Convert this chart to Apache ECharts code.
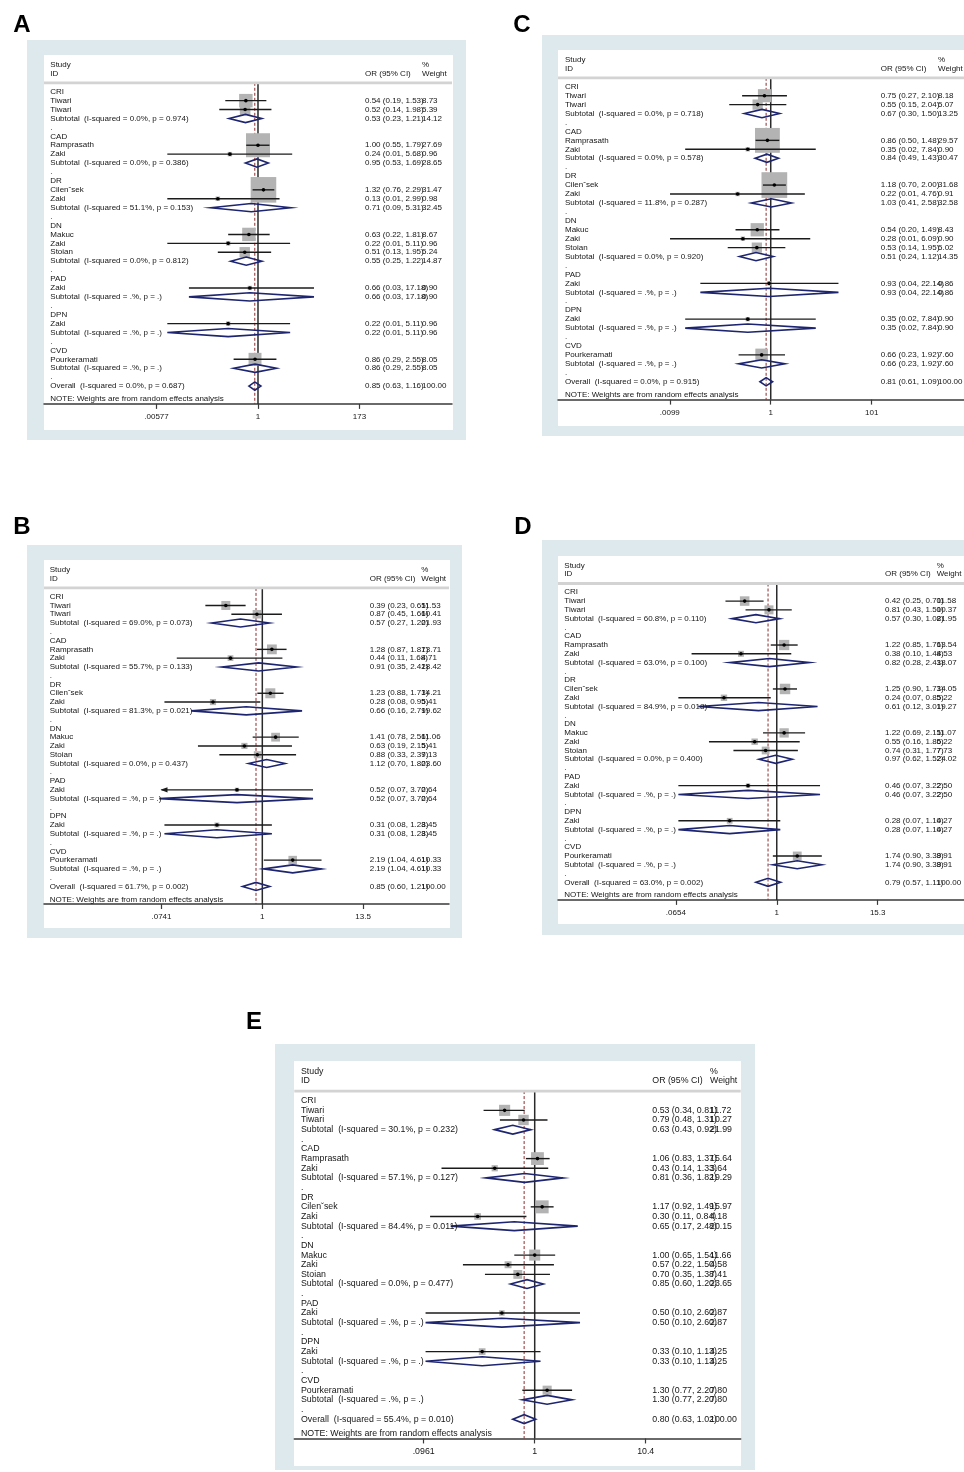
<!DOCTYPE html>
<html>
<head>
<meta charset="utf-8">
<script src="https://cdn.jsdelivr.net/npm/echarts@6/dist/echarts.min.js"></script>
<style>
  html, body { margin: 0; padding: 0; background: #ffffff; }
  #chart { width: 964px; height: 1472px; }
</style>
</head>
<body>
<div id="chart"></div>
<script>
// Subgroups and the studies listed under each (same row order in every panel)
const groups = ['CRI', 'CAD', 'DR', 'DN', 'PAD', 'DPN', 'CVD'];
const studyNames = ['Tiwari', 'Tiwari', 'Ramprasath', 'Zaki', 'Cilen\u02c7sek', 'Zaki', 'Makuc', 'Zaki', 'Stoian', 'Zaki', 'Zaki', 'Pourkeramati'];
const studyGroups = ['CRI', 'CRI', 'CAD', 'CAD', 'DR', 'DR', 'DN', 'DN', 'DN', 'PAD', 'DPN', 'CVD'];

// Panel A — study rows: [OR, lower 95% CI, upper 95% CI, % weight]
const studyA = [[0.54, 0.19, 1.53, 8.73], [0.52, 0.14, 1.98, 5.39], [1.00, 0.55, 1.79, 27.69], [0.24, 0.01, 5.68, 0.96],
  [1.32, 0.76, 2.29, 31.47], [0.13, 0.01, 2.99, 0.98], [0.63, 0.22, 1.81, 8.67], [0.22, 0.01, 5.11, 0.96],
  [0.51, 0.13, 1.95, 5.24], [0.66, 0.03, 17.18, 0.90], [0.22, 0.01, 5.11, 0.96], [0.86, 0.29, 2.55, 8.05]];
const subA = [[0.53, 0.23, 1.21, 14.12], [0.95, 0.53, 1.69, 28.65], [0.71, 0.09, 5.31, 32.45], [0.55, 0.25, 1.22, 14.87],
  [0.66, 0.03, 17.18, 0.90], [0.22, 0.01, 5.11, 0.96], [0.86, 0.29, 2.55, 8.05]];
const hetA = [['0.0%', '0.974'], ['0.0%', '0.386'], ['51.1%', '0.153'], ['0.0%', '0.812'], ['.%', '.'], ['.%', '.'], ['.%', '.']];
const overallA = [0.85, 0.63, 1.16];
const overallHetA = ['0.0%', '0.687'];
const ticksA = ['.00577', '1', '173'];

// Panel B
const studyB = [[0.39, 0.23, 0.65, 11.53], [0.87, 0.45, 1.66, 10.41], [1.28, 0.87, 1.87, 13.71], [0.44, 0.11, 1.68, 4.71],
  [1.23, 0.88, 1.73, 14.21], [0.28, 0.08, 0.95, 5.41], [1.41, 0.78, 2.56, 11.06], [0.63, 0.19, 2.15, 5.41],
  [0.88, 0.33, 2.39, 7.13], [0.52, 0.07, 3.70, 2.64], [0.31, 0.08, 1.28, 3.45], [2.19, 1.04, 4.61, 10.33]];
const subB = [[0.57, 0.27, 1.20, 21.93], [0.91, 0.35, 2.42, 18.42], [0.66, 0.16, 2.79, 19.62], [1.12, 0.70, 1.80, 23.60],
  [0.52, 0.07, 3.70, 2.64], [0.31, 0.08, 1.28, 3.45], [2.19, 1.04, 4.61, 10.33]];
const hetB = [['69.0%', '0.073'], ['55.7%', '0.133'], ['81.3%', '0.021'], ['0.0%', '0.437'], ['.%', '.'], ['.%', '.'], ['.%', '.']];
const overallB = [0.85, 0.60, 1.21];
const overallHetB = ['61.7%', '0.002'];
const ticksB = ['.0741', '1', '13.5'];

// Panel C
const studyC = [[0.75, 0.27, 2.10, 8.18], [0.55, 0.15, 2.04, 5.07], [0.86, 0.50, 1.48, 29.57], [0.35, 0.02, 7.84, 0.90],
  [1.18, 0.70, 2.00, 31.68], [0.22, 0.01, 4.76, 0.91], [0.54, 0.20, 1.49, 8.43], [0.28, 0.01, 6.09, 0.90],
  [0.53, 0.14, 1.95, 5.02], [0.93, 0.04, 22.14, 0.86], [0.35, 0.02, 7.84, 0.90], [0.66, 0.23, 1.92, 7.60]];
const subC = [[0.67, 0.30, 1.50, 13.25], [0.84, 0.49, 1.43, 30.47], [1.03, 0.41, 2.58, 32.58], [0.51, 0.24, 1.12, 14.35],
  [0.93, 0.04, 22.14, 0.86], [0.35, 0.02, 7.84, 0.90], [0.66, 0.23, 1.92, 7.60]];
const hetC = [['0.0%', '0.718'], ['0.0%', '0.578'], ['11.8%', '0.287'], ['0.0%', '0.920'], ['.%', '.'], ['.%', '.'], ['.%', '.']];
const overallC = [0.81, 0.61, 1.09];
const overallHetC = ['0.0%', '0.915'];
const ticksC = ['.0099', '1', '101'];

// Panel D
const studyD = [[0.42, 0.25, 0.70, 11.58], [0.81, 0.43, 1.50, 10.37], [1.22, 0.85, 1.76, 13.54], [0.38, 0.10, 1.48, 4.53],
  [1.25, 0.90, 1.73, 14.05], [0.24, 0.07, 0.85, 5.22], [1.22, 0.69, 2.15, 11.07], [0.55, 0.16, 1.86, 5.22],
  [0.74, 0.31, 1.77, 7.73], [0.46, 0.07, 3.22, 2.50], [0.28, 0.07, 1.10, 4.27], [1.74, 0.90, 3.38, 9.91]];
const subD = [[0.57, 0.30, 1.08, 21.95], [0.82, 0.28, 2.43, 18.07], [0.61, 0.12, 3.01, 19.27], [0.97, 0.62, 1.52, 24.02],
  [0.46, 0.07, 3.22, 2.50], [0.28, 0.07, 1.10, 4.27], [1.74, 0.90, 3.38, 9.91]];
const hetD = [['60.8%', '0.110'], ['63.0%', '0.100'], ['84.9%', '0.018'], ['0.0%', '0.400'], ['.%', '.'], ['.%', '.'], ['.%', '.']];
const overallD = [0.79, 0.57, 1.11];
const overallHetD = ['63.0%', '0.002'];
const ticksD = ['.0654', '1', '15.3'];

// Panel E
const studyE = [[0.53, 0.34, 0.81, 11.72], [0.79, 0.48, 1.31, 10.27], [1.06, 0.83, 1.37, 15.64], [0.43, 0.14, 1.33, 3.64],
  [1.17, 0.92, 1.49, 15.97], [0.30, 0.11, 0.84, 4.18], [1.00, 0.65, 1.54, 11.66], [0.57, 0.22, 1.50, 4.58],
  [0.70, 0.35, 1.38, 7.41], [0.50, 0.10, 2.60, 2.87], [0.33, 0.10, 1.13, 4.25], [1.30, 0.77, 2.20, 7.80]];
const subE = [[0.63, 0.43, 0.92, 21.99], [0.81, 0.36, 1.82, 19.29], [0.65, 0.17, 2.48, 20.15], [0.85, 0.60, 1.20, 23.65],
  [0.50, 0.10, 2.60, 2.87], [0.33, 0.10, 1.13, 4.25], [1.30, 0.77, 2.20, 7.80]];
const hetE = [['30.1%', '0.232'], ['57.1%', '0.127'], ['84.4%', '0.011'], ['0.0%', '0.477'], ['.%', '.'], ['.%', '.'], ['.%', '.']];
const overallE = [0.80, 0.63, 1.02];
const overallHetE = ['55.4%', '0.010'];
const ticksE = ['.0961', '1', '10.4'];

const panelData = [
  { study: studyA, sub: subA, het: hetA, overall: overallA, overallHet: overallHetA, ticks: ticksA },
  { study: studyB, sub: subB, het: hetB, overall: overallB, overallHet: overallHetB, ticks: ticksB },
  { study: studyC, sub: subC, het: hetC, overall: overallC, overallHet: overallHetC, ticks: ticksC },
  { study: studyD, sub: subD, het: hetD, overall: overallD, overallHet: overallHetD, ticks: ticksD },
  { study: studyE, sub: subE, het: hetE, overall: overallE, overallHet: overallHetE, ticks: ticksE }
];

// Page layout of each panel: grid box [left, top, width, height], ln(OR) axis range,
// text column offsets from the grid's left edge, font size and box scale.
const layouts = [
  { letter: 'A', letterPos: [22, 25], box: [27, 40, 439, 400], card: [44, 55, 409, 375], grid: [44, 82.8, 408, 321.1], ln: [-10.868, 9.853], col: [6.3, 321, 378], font: 8, boxK: 4.56 },
  { letter: 'B', letterPos: [22, 527], box: [27, 545, 435, 393], card: [44, 560, 406, 368], grid: [44, 587.9, 405, 316.1], ln: [-5.634, 4.818], col: [5.7, 325.7, 377.3], font: 8, boxK: 2.65 },
  { letter: 'C', letterPos: [522, 25], box: [542, 35, 440, 401], card: [558, 50, 420, 376], grid: [558, 77.8, 409, 321.8], ln: [-9.728, 8.838], col: [7, 322.7, 380], font: 8, boxK: 4.57 },
  { letter: 'D', letterPos: [523, 527], box: [542, 540, 440, 395], card: [558, 556, 420, 368], grid: [558, 583.5, 407, 316.4], ln: [-5.913, 5.061], col: [6.3, 327, 378.7], font: 8, boxK: 2.8 },
  { letter: 'E', letterPos: [254, 1022], box: [275, 1044, 480, 426], card: [294, 1061, 447, 405], grid: [294.3, 1091.05, 446.4, 347.4], ln: [-5.072, 4.346], col: [6.7, 358, 415.7], font: 8.8, boxK: 3.25 }
];

const FONT_FAMILY = '"Liberation Sans", Arial, Helvetica, sans-serif';
const NAVY = '#1d2570';

// Turn one panel's arrays into printable rows (row index = vertical position)
function buildRows(d) {
  const rows = [
    { r: -3.05, left: 'Study', right: '%' },
    { r: -2.05, left: 'ID', mid: 'OR (95% CI)', right: 'Weight' },
    { r: -1, rule: true }
  ];
  let r = 0;
  groups.forEach((g, gi) => {
    rows.push({ r: r++, left: g });
    studyGroups.forEach((sg, si) => {
      if (sg !== g) return;
      const s = d.study[si];
      rows.push({ r: r++, kind: 'study', left: studyNames[si], or: s[0], lo: s[1], hi: s[2], w: s[3] });
    });
    const p = d.sub[gi];
    rows.push({ r: r++, kind: 'pooled', left: 'Subtotal  (I-squared = ' + d.het[gi][0] + ', p = ' + d.het[gi][1] + ')', or: p[0], lo: p[1], hi: p[2], w: p[3] });
    rows.push({ r: r++, left: '.' });
  });
  rows.push({ r: r, kind: 'pooled', left: 'Overall  (I-squared = ' + d.overallHet[0] + ', p = ' + d.overallHet[1] + ')', or: d.overall[0], lo: d.overall[1], hi: d.overall[2], w: 100 });
  rows.push({ r: r + 1.47, left: 'NOTE: Weights are from random effects analysis' });
  rows.forEach(row => {
    if (row.or != null) {
      row.mid = row.or.toFixed(2) + ' (' + row.lo.toFixed(2) + ', ' + row.hi.toFixed(2) + ')';
      row.right = row.w.toFixed(2);
    }
  });
  return rows;
}

function textEl(x, y, text, font) {
  return {
    type: 'text', x: x, y: y, silent: true,
    style: { text: text, font: font, fill: '#151515', align: 'left', verticalAlign: 'middle', textAlign: 'left', textVerticalAlign: 'middle' }
  };
}

const option = { animation: false, grid: [], xAxis: [], yAxis: [], series: [], graphic: [] };

layouts.forEach((lay, i) => {
  const d = panelData[i];
  const rows = buildRows(d);
  const tickLn = d.ticks.map(t => Math.log(parseFloat(t)));
  const font = lay.font + 'px ' + FONT_FAMILY;

  // panel background, plot card and panel letter
  option.graphic.push(
    { type: 'rect', z: -10, silent: true, shape: { x: lay.box[0], y: lay.box[1], width: lay.box[2], height: lay.box[3] }, style: { fill: '#dde9ed' } },
    { type: 'rect', z: -9, silent: true, shape: { x: lay.card[0], y: lay.card[1], width: lay.card[2], height: lay.card[3] }, style: { fill: '#ffffff' } },
    { type: 'text', z: 5, silent: true, x: lay.letterPos[0], y: lay.letterPos[1], style: { text: lay.letter, font: 'bold 24px ' + FONT_FAMILY, fill: '#000', align: 'center', verticalAlign: 'middle', textAlign: 'center', textVerticalAlign: 'middle' } }
  );

  option.grid.push({ left: lay.grid[0], top: lay.grid[1], width: lay.grid[2], height: lay.grid[3], show: false });

  option.xAxis.push({
    type: 'value', gridIndex: i, min: lay.ln[0], max: lay.ln[1], position: 'bottom',
    axisLine: { show: true, onZero: false, lineStyle: { color: '#3a3a3a', width: 1.5 } },
    axisTick: { show: true, inside: false, length: 5, customValues: tickLn, lineStyle: { color: '#3a3a3a', width: 1.2 } },
    splitLine: { show: false },
    axisLabel: {
      customValues: tickLn, margin: 9, fontSize: lay.font, fontFamily: FONT_FAMILY, color: '#151515',
      formatter: v => {
        let best = 0;
        tickLn.forEach((t, j) => { if (Math.abs(t - v) < Math.abs(tickLn[best] - v)) best = j; });
        return d.ticks[best];
      }
    }
  });
  option.yAxis.push({ type: 'value', gridIndex: i, min: -1, max: 35, inverse: true, show: false });

  // line of no effect (OR = 1)
  option.series.push({
    type: 'line', xAxisIndex: i, yAxisIndex: i, silent: true, symbol: 'none', z: 2,
    data: [[0, -1], [0, 35]], lineStyle: { color: '#2a2a2a', width: 1.5 }
  });
  // pooled overall estimate
  option.series.push({
    type: 'line', xAxisIndex: i, yAxisIndex: i, silent: true, symbol: 'none', z: 2,
    data: [[Math.log(d.overall[0]), -1], [Math.log(d.overall[0]), 35]],
    lineStyle: { color: '#8e2b2b', width: 1, type: [3, 2] }
  });

  // study boxes, confidence intervals and pooled diamonds
  const markRows = rows.filter(row => row.kind);
  option.series.push({
    type: 'custom', xAxisIndex: i, yAxisIndex: i, silent: true, z: 3, clip: false,
    data: markRows.map(row => [Math.log(row.or), row.r]),
    encode: { x: 0, y: 1 },
    renderItem: (params, api) => {
      const row = markRows[params.dataIndex];
      const y = api.coord([0, row.r])[1];
      const xc = api.coord([Math.log(row.or), row.r])[0];
      if (row.kind === 'study') {
        const a = Math.max(Math.log(row.lo), tickLn[0]);
        const b = Math.min(Math.log(row.hi), tickLn[2]);
        const x1 = api.coord([a, row.r])[0];
        const x2 = api.coord([b, row.r])[0];
        const s = lay.boxK * Math.sqrt(row.w);
        const children = [
          { type: 'rect', shape: { x: xc - s / 2, y: y - s / 2, width: s, height: s }, style: { fill: '#b3b3b3' } },
          { type: 'line', shape: { x1: x1, y1: y, x2: x2, y2: y }, style: { stroke: '#1b1b1b', lineWidth: 1.4 } },
          { type: 'circle', shape: { cx: xc, cy: y, r: 1.8 }, style: { fill: '#000' } }
        ];
        if (Math.log(row.lo) < tickLn[0]) {
          children.push({ type: 'polygon', shape: { points: [[x1 - 1, y], [x1 + 6, y - 2.6], [x1 + 6, y + 2.6]] }, style: { fill: '#1b1b1b' } });
        }
        if (Math.log(row.hi) > tickLn[2]) {
          children.push({ type: 'polygon', shape: { points: [[x2 + 1, y], [x2 - 6, y - 2.6], [x2 - 6, y + 2.6]] }, style: { fill: '#1b1b1b' } });
        }
        return { type: 'group', children: children };
      }
      const xl = api.coord([Math.log(row.lo), row.r])[0];
      const xh = api.coord([Math.log(row.hi), row.r])[0];
      const h = api.size([0, 1])[1] * 0.46;
      return {
        type: 'polygon',
        shape: { points: [[xl, y], [xc, y - h], [xh, y], [xc, y + h]] },
        style: { fill: 'none', stroke: NAVY, lineWidth: 1.6 }
      };
    }
  });

  // text columns: study labels, OR (95% CI) and % weight
  option.series.push({
    type: 'custom', xAxisIndex: i, yAxisIndex: i, silent: true, z: 4, clip: false,
    data: rows.map(row => [0, row.r]),
    encode: { x: 0, y: 1 },
    renderItem: (params, api) => {
      const row = rows[params.dataIndex];
      const cs = params.coordSys;
      const y = api.coord([0, row.r])[1];
      const children = [];
      if (row.rule) {
        children.push({ type: 'rect', shape: { x: cs.x, y: y - 1.4, width: cs.width, height: 2.8 }, style: { fill: '#d3d3d3' } });
      }
      if (row.left != null) children.push(textEl(cs.x + lay.col[0], y, row.left, font));
      if (row.mid != null) children.push(textEl(cs.x + lay.col[1], y, row.mid, font));
      if (row.right != null) children.push(textEl(cs.x + lay.col[2], y, row.right, font));
      return { type: 'group', children: children };
    }
  });
});

const chart = echarts.init(document.getElementById('chart'), null, { renderer: 'canvas' });
chart.setOption(option);
</script>
</body>
</html>
